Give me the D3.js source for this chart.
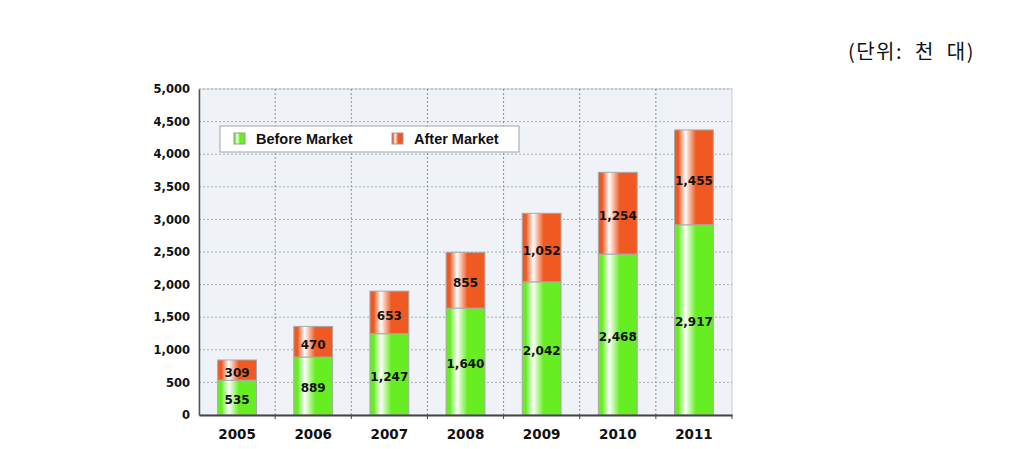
<!DOCTYPE html>
<html><head><meta charset="utf-8">
<script src="https://cdn.jsdelivr.net/npm/d3@7"></script>
<style>body{margin:0;background:#fff;}svg{display:block;}</style>
</head><body>
<svg id="c" width="1013" height="449"></svg>
<script>
const years = ["2005","2006","2007","2008","2009","2010","2011"];
const beforeMarket = [535, 889, 1247, 1640, 2042, 2468, 2917];
const afterMarket = [309, 470, 653, 855, 1052, 1254, 1455];
const seriesNames = ["Before Market", "After Market"];
const yTicks = [0, 500, 1000, 1500, 2000, 2500, 3000, 3500, 4000, 4500, 5000];
const unitLabel = "(단위:  천  대)";

const svg = d3.select("#c");
const L = 199, R = 732, T = 89, B = 415;
const x = d3.scaleBand().domain(years).range([L, R]).paddingInner(0.49).paddingOuter(0.245);
const xb = d3.scaleBand().domain(years).range([L, R]);
const y = d3.scaleLinear().domain([0, 5000]).range([B, T]);

const defs = svg.append("defs");
function grad(id, c) {
  const g = defs.append("linearGradient").attr("id", id).attr("x1", 0).attr("x2", 1).attr("y1", 0).attr("y2", 0);
  g.append("stop").attr("offset", "0%").attr("stop-color", c);
  g.append("stop").attr("offset", "10%").attr("stop-color", c);
  g.append("stop").attr("offset", "28%").attr("stop-color", "#ffffff");
  g.append("stop").attr("offset", "55%").attr("stop-color", c);
  g.append("stop").attr("offset", "100%").attr("stop-color", c);
}
grad("gGreen", "#66ee22");
grad("gOrange", "#f05a22");

// plot background
svg.append("rect").attr("x", L).attr("y", T).attr("width", R - L).attr("height", B - T)
  .attr("fill", "#eff3f7").attr("stroke", "#c8ccd0");

// horizontal grid
svg.append("g").selectAll("line").data(yTicks.slice(1)).join("line")
  .attr("x1", L).attr("x2", R).attr("y1", d => y(d)).attr("y2", d => y(d))
  .attr("stroke", "#a8adb2").attr("stroke-dasharray", "2,2").attr("stroke-width", 1);
// vertical grid at category boundaries
svg.append("g").selectAll("line").data(years.slice(1)).join("line")
  .attr("x1", d => xb(d)).attr("x2", d => xb(d)).attr("y1", T).attr("y2", B)
  .attr("stroke", "#8a9096").attr("stroke-dasharray", "2,2").attr("stroke-width", 1);

// bars
const stacks = years.map((yr, i) => ({yr, b: beforeMarket[i], a: afterMarket[i]}));
const g = svg.append("g");
g.selectAll(".bm").data(stacks).join("rect")
  .attr("x", d => x(d.yr)).attr("width", x.bandwidth())
  .attr("y", d => y(d.b)).attr("height", d => y(0) - y(d.b))
  .attr("fill", "url(#gGreen)").attr("stroke", "#a9a9a9").attr("stroke-width", 1);
g.selectAll(".am").data(stacks).join("rect")
  .attr("x", d => x(d.yr)).attr("width", x.bandwidth())
  .attr("y", d => y(d.b + d.a)).attr("height", d => y(d.b) - y(d.b + d.a))
  .attr("fill", "url(#gOrange)").attr("stroke", "#a9a9a9").attr("stroke-width", 1);

// value labels
const lblFont = "'DejaVu Sans', Verdana, sans-serif";
g.selectAll(".lb").data(stacks).join("text")
  .attr("x", d => x(d.yr) + x.bandwidth() / 2).attr("y", d => y(d.b / 2) + 2)
  .attr("dy", "0.35em").attr("text-anchor", "middle")
  .attr("font-family", lblFont).attr("font-weight", "bold").attr("font-size", 12)
  .attr("fill", "#111").text(d => d3.format(",")(d.b));
g.selectAll(".la").data(stacks).join("text")
  .attr("x", d => x(d.yr) + x.bandwidth() / 2).attr("y", d => y(d.b + d.a / 2) + 3)
  .attr("dy", "0.35em").attr("text-anchor", "middle")
  .attr("font-family", lblFont).attr("font-weight", "bold").attr("font-size", 12)
  .attr("fill", "#111").text(d => d3.format(",")(d.a));

// y axis
const ya = svg.append("g").attr("transform", `translate(${L},0)`)
  .call(d3.axisLeft(y).tickValues(yTicks).tickFormat(d3.format(",")).tickSize(0).tickPadding(9));
ya.select(".domain").attr("stroke", "#555").attr("stroke-width", 1.5);
ya.selectAll("text").attr("font-family", lblFont).attr("font-weight", "bold").attr("font-size", 11.5).attr("fill", "#111");

// x axis
const xa = svg.append("g").attr("transform", `translate(0,${B})`)
  .call(d3.axisBottom(xb).tickSize(0).tickPadding(14));
xa.select(".domain").attr("stroke", "#444").attr("stroke-width", 2);
xa.selectAll("text").attr("font-family", lblFont).attr("font-weight", "bold").attr("font-size", 13.5).attr("fill", "#111");
// bottom tick marks at category boundaries
svg.append("g").selectAll("line").data(years.slice(1).concat(["end"])).join("line")
  .attr("x1", d => d === "end" ? R : xb(d)).attr("x2", d => d === "end" ? R : xb(d))
  .attr("y1", B).attr("y2", B + 4).attr("stroke", "#444").attr("stroke-width", 1);

// legend
const lg = svg.append("g");
lg.append("rect").attr("x", 220).attr("y", 126).attr("width", 299).attr("height", 26)
  .attr("fill", "#ffffff").attr("stroke", "#a0a4a8");
const legendItems = [{name: seriesNames[0], fill: "url(#gGreen)", x: 234}, {name: seriesNames[1], fill: "url(#gOrange)", x: 392}];
legendItems.forEach(it => {
  lg.append("rect").attr("x", it.x).attr("y", 133).attr("width", 11).attr("height", 11)
    .attr("fill", it.fill).attr("stroke", "#999");
  lg.append("text").attr("x", it.x + 22).attr("y", 139).attr("dy", "0.35em")
    .attr("font-family", "Arial, 'Liberation Sans', sans-serif").attr("font-weight", "bold").attr("font-size", 14.5)
    .attr("fill", "#111").text(it.name);
});

// unit label
svg.append("text").attr("x", 975).attr("y", 52).attr("dy", "0.35em").attr("text-anchor", "end")
  .attr("font-family", "'Noto Sans CJK KR', sans-serif").attr("font-size", 20).attr("fill", "#111")
  .attr("letter-spacing", 1.5)
  .attr("xml:space", "preserve").style("white-space", "pre").text(unitLabel);
</script>
</body></html>
